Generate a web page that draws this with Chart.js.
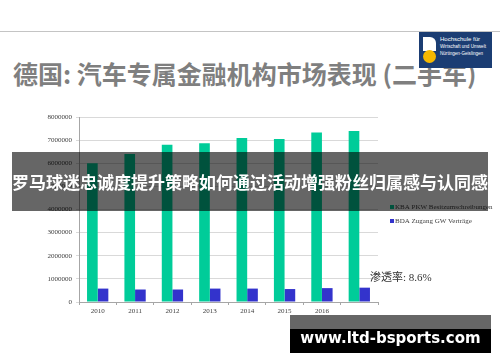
<!DOCTYPE html>
<html>
<head>
<meta charset="utf-8">
<script src="https://cdn.jsdelivr.net/npm/chart.js@4.4.1/dist/chart.umd.min.js"></script>
<style>
  html, body { margin: 0; padding: 0; background: #fff; }
  #page { position: relative; width: 500px; height: 362px; overflow: hidden; font-family: "Noto Sans CJK SC", sans-serif; }
  #rule { position: absolute; left: 0; top: 31px; width: 500px; height: 1px; background: #c4c4c4; }
  #title { position: absolute; left: 13px; top: 57px; font-size: 25px; font-weight: bold; color: #7f7f7f; white-space: nowrap; line-height: 32px; }
  #logo { position: absolute; left: 419px; top: 32px; width: 73px; height: 36px; background: #1b3d73; }
  #logo .txt { position: absolute; left: 21px; top: 4px; color: #fff; font-family: "Liberation Sans Narrow", "Liberation Sans", sans-serif; font-size: 4.6px; line-height: 7px; white-space: nowrap; }
  #logo .txt b { font-size: 6px; font-weight: normal; }
  #logo .white { position: absolute; left: 4px; top: 5px; width: 13px; height: 14px; background: #fff; border-radius: 0 6px 0 0; }
  #logo .sun { position: absolute; left: 4px; top: 18px; width: 13px; height: 13px; background: #f6b800; border-radius: 50%; }
  #wrap { position: absolute; left: 0; top: 0; width: 500px; height: 362px; }
  #rate { position: absolute; left: 370px; top: 268px; font-size: 11px; color: #333; white-space: nowrap; font-family: "Liberation Serif", "Noto Sans CJK SC", serif; }
  #banner { position: absolute; left: 12px; top: 152px; width: 476px; height: 59px; background: rgba(0,0,0,0.6); color: #fff; font-size: 17px; font-weight: bold; line-height: 59px; text-align: center; white-space: nowrap; }
  #mark { position: absolute; left: 290px; top: 315px; width: 201px; height: 38px; background: #000; }
  #mark .top { position: absolute; left: 0; top: 0; width: 201px; height: 14px; background: #666; }
  #mark .txt { position: absolute; left: 0; top: 11px; width: 201px; text-align: center; color: #fff; font-family: "DejaVu Sans", sans-serif; font-weight: bold; font-size: 15px; line-height: 24px; white-space: nowrap; }
</style>
</head>
<body>
<div id="page">
  <div id="rule"></div>
  <div id="title">德国: 汽车专属金融机构市场表现 (二手车)</div>
  <div id="logo">
    <div class="white"></div><div class="sun"></div>
    <div class="txt"><b>Hochschule für</b><br>Wirtschaft und Umwelt<br>Nürtingen-Geislingen</div>
  </div>
  <div id="wrap"><canvas id="grafico" width="500" height="362"></canvas></div>
  <div id="rate">渗透率: 8.6%</div>
  <div id="banner">罗马球迷忠诚度提升策略如何通过活动增强粉丝归属感与认同感</div>
  <div id="mark"><div class="top"></div><div class="txt">www.ltd-bsports.com</div></div>
</div>
<script>
const anos = ['2010', '2011', '2012', '2013', '2014', '2015', '2016', ''];
const kbaPkw = [6000000, 6400000, 6800000, 6870000, 7090000, 7050000, 7330000, 7400000];
const bdaGw = [580000, 540000, 540000, 580000, 580000, 560000, 600000, 620000];
const nomes = ['KBA PKW Besitzumschreibungen', 'BDA Zugang GW Verträge'];
const cores = ['#00cc99', '#3333cc'];

// legenda desenhada à mão, ao lado do gráfico
const legendaLateral = {
  id: 'legendaLateral',
  afterDraw(chart) {
    const c = chart.ctx;
    const x = chart.chartArea.right + 12;
    c.save();
    c.font = '7px "Liberation Serif", serif';
    c.textBaseline = 'middle';
    chart.data.datasets.forEach((ds, i) => {
      const y = 207 + i * 14;
      c.fillStyle = ds.backgroundColor;
      c.fillRect(x, y - 2, 4, 4);
      c.fillStyle = '#404040';
      c.fillText(ds.label, x + 5, y);
    });
    c.restore();
  }
};

document.addEventListener('DOMContentLoaded', () => {
  const ctx = document.getElementById('grafico').getContext('2d');
  new Chart(ctx, {
    type: 'bar',
    data: {
      labels: anos,
      datasets: [
        { label: nomes[0], data: kbaPkw, backgroundColor: cores[0] },
        { label: nomes[1], data: bdaGw, backgroundColor: cores[1] }
      ]
    },
    options: {
      responsive: false,
      animation: false,
      layout: { padding: { left: 0, right: 122, top: 117, bottom: 40 } },
      datasets: { bar: { categoryPercentage: 0.57, barPercentage: 1 } },
      plugins: { legend: { display: false }, tooltip: { enabled: false } },
      scales: {
        x: {
          offset: true,
          grid: { offset: true, drawOnChartArea: false, drawTicks: true, tickLength: 3, color: '#a6a6a6' },
          border: { color: '#a6a6a6' },
          ticks: { padding: 2, color: '#404040', font: { family: 'Liberation Serif', size: 7 } },
          afterFit(s) { s.height = 20; }
        },
        y: {
          min: 0, max: 8000000,
          ticks: {
            stepSize: 1000000, padding: 4, color: '#404040',
            font: { family: 'Liberation Serif', size: 7 },
            callback: (v) => String(v)
          },
          grid: { color: '#d9d9d9', tickLength: 3 },
          border: { color: '#a6a6a6' },
          afterFit(s) { s.width = 79; }
        }
      }
    },
    plugins: [legendaLateral]
  });
});
</script>
</body>
</html>
